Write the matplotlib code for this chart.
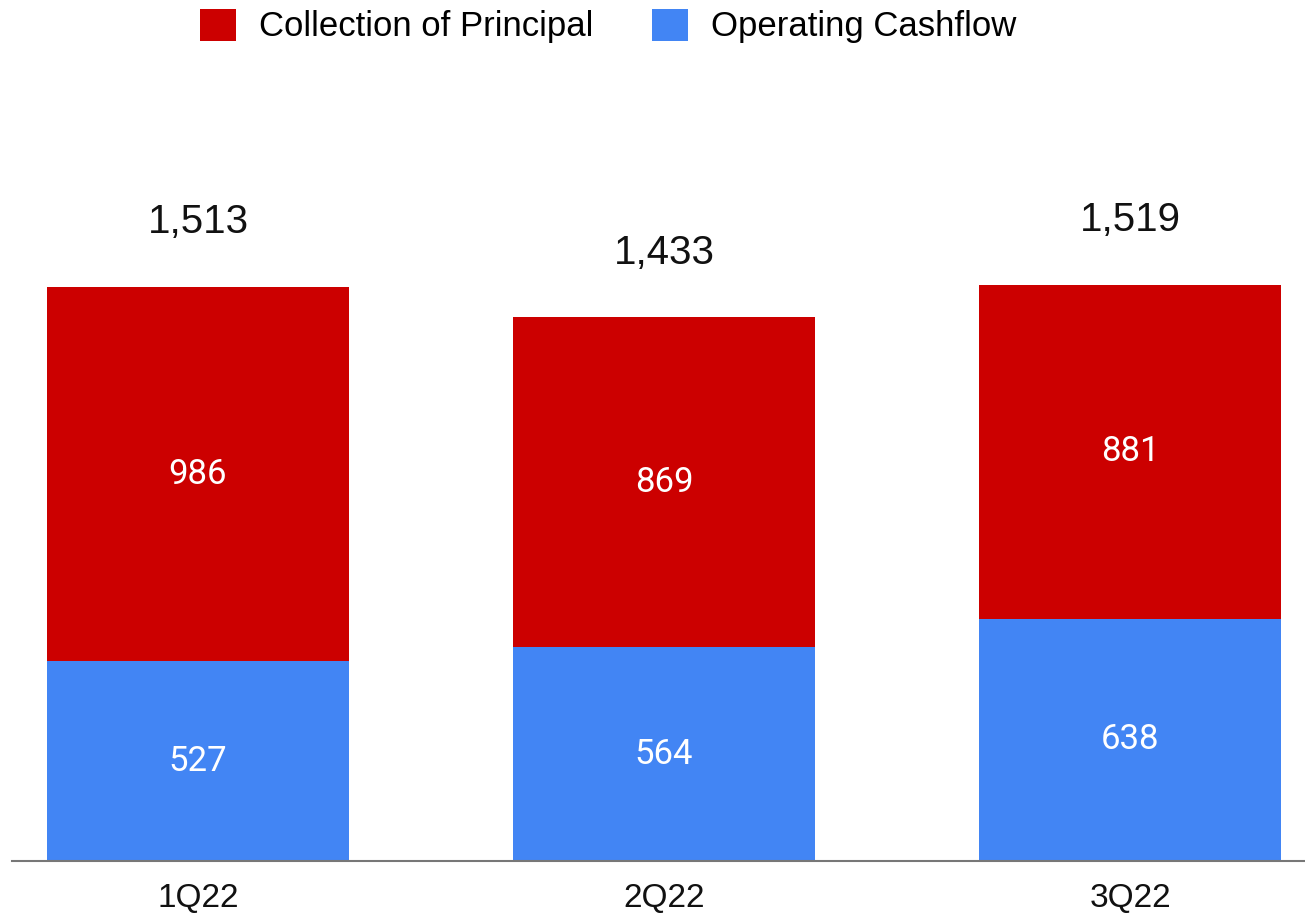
# -*- coding: utf-8 -*-
import numpy as np
from matplotlib import pyplot as plt

# Datos del grafico
trimestres = ["1Q22", "2Q22", "3Q22"]
operating_cashflow = [527, 564, 638]
collection_principal = [986, 869, 881]
totales = ["1,513", "1,433", "1,519"]

rojo = "#CC0000"
azul = "#4285F4"

fig = plt.figure(figsize=(13.05, 9.13), dpi=100)
ax = fig.add_axes([12/1305, 52/913, 1293/1305, 761/913])

x = np.arange(len(trimestres))
ancho = 0.648

# Barras apiladas
b1 = ax.bar(x, operating_cashflow, ancho, color=azul, label="Operating Cashflow")
b2 = ax.bar(x, collection_principal, ancho, bottom=operating_cashflow,
            color=rojo, label="Collection of Principal")

# Etiquetas dentro de las barras
ax.bar_label(b1, labels=[str(v) for v in operating_cashflow], label_type="center",
             color="white", fontsize=25, family="Roboto")
ax.bar_label(b2, labels=[str(v) for v in collection_principal], label_type="center",
             color="white", fontsize=25, family="Roboto")

# Totales sobre cada barra
suma = np.array(operating_cashflow) + np.array(collection_principal)
for xi, s, t in zip(x, suma, totales):
    ax.annotate(t, (xi, s), xytext=(0, 33), textcoords="offset points",
                ha="center", va="bottom", fontsize=29, family="Liberation Sans",
                color="#111111")

ax.set_xlim(-0.399, 2.375)
ax.set_ylim(0, 2006)
ax.set_xticks(x)
ax.set_xticklabels(trimestres, fontsize=24, family="Liberation Sans", color="#111111")
ax.tick_params(axis="x", length=0, pad=15.5)
ax.set_yticks([])
for lado in ["top", "right", "left"]:
    ax.spines[lado].set_visible(False)
ax.spines["bottom"].set_color("#777777")
ax.spines["bottom"].set_linewidth(1.5)

# Leyenda arriba
fig.legend(handles=[b2, b1], labels=["Collection of Principal", "Operating Cashflow"],
           loc="center", bbox_to_anchor=(608/1305, 1 - 26/913), ncol=2, frameon=False,
           prop={"family": "Liberation Sans", "size": 25},
           handlelength=1.04, handleheight=1.04, handletextpad=0.66, columnspacing=1.7)

plt.savefig("out.png", dpi=100)
